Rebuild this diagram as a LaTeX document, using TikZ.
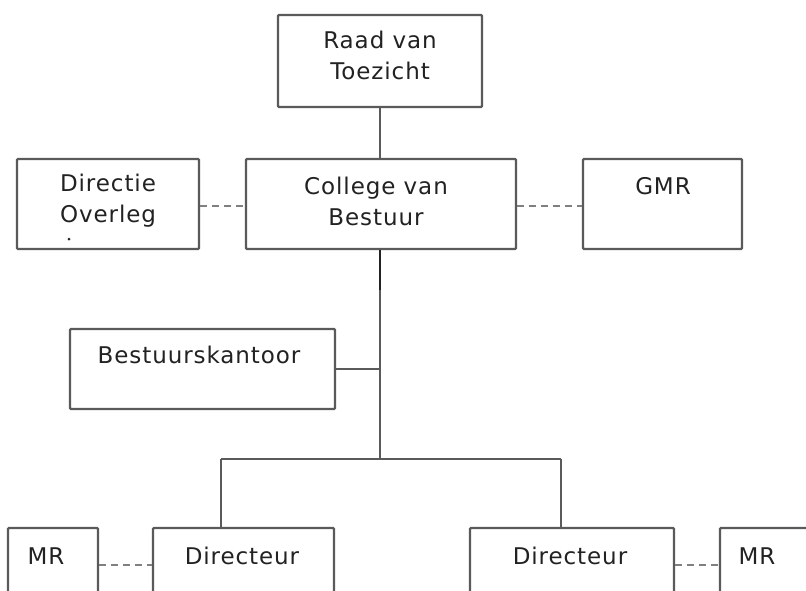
\documentclass[tikz,border=0pt]{standalone}
\usepackage{fontspec}
\setmainfont{DejaVu Sans}[LetterSpace=4]
\begin{document}
\begin{tikzpicture}[x=1pt,y=-1pt,
  box/.style={draw=linegray, line width=2.3pt, rounded corners=1pt, inner sep=0pt, fill=white},
  txt/.style={text=textgray, font=\fontsize{23}{31}\selectfont, align=center, inner sep=0pt},
  solidline/.style={draw=linegray, line width=2.3pt},
  dashline/.style={draw=dashgray, line width=2.6pt, dash pattern=on 6.5pt off 5.5pt}]
\definecolor{linegray}{HTML}{5A5A5A}
\definecolor{dashgray}{HTML}{808080}
\definecolor{textgray}{HTML}{222222}
\useasboundingbox (0,0) rectangle (806,590);
\fill[white] (0,0) rectangle (806,590);
% boxes
\node[box, minimum width=204pt, minimum height=92pt] (raad) at (380,61) {};
\node[box, minimum width=182pt, minimum height=90pt] (dir) at (108,204) {};
\node[box, minimum width=270pt, minimum height=90pt] (col) at (381,204) {};
\node[box, minimum width=159pt, minimum height=90pt] (gmr) at (662.5,204) {};
\node[box, minimum width=265pt, minimum height=80pt] (bk) at (202.5,369) {};
\node[box, minimum width=181pt, minimum height=74pt] (d1) at (243.5,565) {};
\node[box, minimum width=204pt, minimum height=74pt] (d2) at (572,565) {};
\node[box, minimum width=90pt, minimum height=74pt] (mr1) at (53,565) {};
\node[box, minimum width=90pt, minimum height=74pt] (mr2) at (765,565) {};
% texts
\node[txt] (traad) at (380,55) {Raad van\\Toezicht};
\node[txt] (tdir) at (108,201) {Directie\\Overleg};
\node[txt] (tcol) at (376,201) {College van\\Bestuur};
\node[txt] (tgmr) at (663,186) {GMR};
\node[txt] (tbk) at (199,355) {Bestuurskantoor};
\node[txt] (td1) at (242,556) {Directeur};
\node[txt] (td2) at (570,556) {Directeur};
\node[txt] (tmr1) at (46,556) {MR};
\node[txt] (tmr2) at (757,556) {MR};
\fill[textgray] (69,239) circle (1.5pt);
% connectors
\coordinate (jm) at (380,459);
\coordinate (j1) at (221,459);
\coordinate (j2) at (561,459);
\draw[solidline] (raad.south -| jm) -- (col.north -| jm);
\draw[solidline] (col.south -| jm) -- (jm);
\draw[solidline, draw=textgray] (col.south -| jm) -- (380,290);
\draw[solidline] (bk.east) -- (bk.east -| jm);
\draw[solidline] (j1) -- (j2);
\draw[solidline] (j1) -- (j1 |- d1.north);
\draw[solidline] (j2) -- (j2 |- d2.north);
\draw[dashline] (dir.east |- 0,206) -- (col.west |- 0,206);
\draw[dashline] (col.east |- 0,206) -- (gmr.west |- 0,206);
\draw[dashline] (mr1.east) -- (d1.west);
\draw[dashline] (d2.east) -- (mr2.west);
\end{tikzpicture}
\end{document}
